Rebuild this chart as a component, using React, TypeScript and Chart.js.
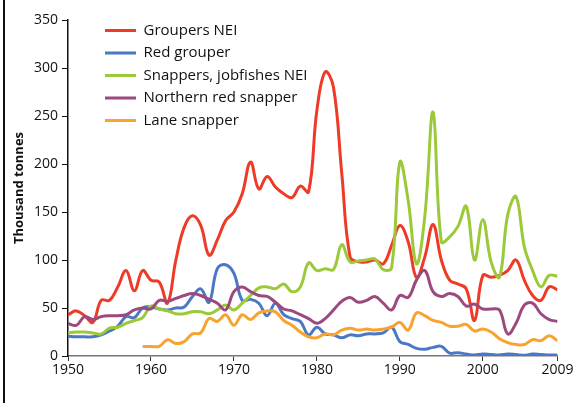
import { useEffect, useRef } from "react";
import { Chart, registerables } from "chart.js";
Chart.register(...registerables);

const years = [
  1950, 1951, 1952, 1953, 1954, 1955, 1956, 1957, 1958, 1959,
  1960, 1961, 1962, 1963, 1964, 1965, 1966, 1967, 1968, 1969,
  1970, 1971, 1972, 1973, 1974, 1975, 1976, 1977, 1978, 1979,
  1980, 1981, 1982, 1983, 1984, 1985, 1986, 1987, 1988, 1989,
  1990, 1991, 1992, 1993, 1994, 1995, 1996, 1997, 1998, 1999,
  2000, 2001, 2002, 2003, 2004, 2005, 2006, 2007, 2008, 2009,
];

const groupersNEI = [
  43, 47, 42, 35, 58, 58, 72, 89, 68, 89,
  79, 77, 55, 100, 134, 146, 136, 105, 121, 141,
  150, 169, 202, 174, 187, 176, 169, 165, 177, 171,
  256, 296, 280, 190, 103, 98, 98, 100, 96, 115,
  136, 119, 82, 103, 137, 100, 79, 75, 70, 37,
  84, 82, 84, 89, 100, 79, 63, 58, 72, 69,
];

const redGrouper = [
  20.5, 20, 20, 20, 22, 26, 31, 41, 40, 50,
  51, 49, 48, 50, 51, 62, 70, 56, 91, 95,
  86, 58, 59, 55, 42, 55, 43, 39, 36, 22,
  30, 23, 22, 19, 22, 21, 23, 23, 24, 30,
  15, 12, 8, 7, 9, 10, 3, 3.5, 2, 1,
  2, 1.5, 1, 2, 1.5, 0.7, 2, 1.5, 1, 1,
];

const snappersJobfishesNEI = [
  24, 25, 25, 24, 23, 29, 30, 34, 37, 40,
  52, 49, 47, 44, 44, 46, 46, 44, 48, 53,
  48, 55, 63, 71, 72, 70, 75, 67, 72, 97,
  89, 91, 90, 116, 98, 99, 100, 101, 90, 92,
  202, 162, 96, 145, 254, 119, 124, 135, 156, 100,
  142, 98, 82, 147, 166, 114, 89, 72, 84, 83,
];

const northernRedSnapper = [
  34, 32, 41, 38, 41, 42, 42, 43, 48, 50,
  49, 58, 57, 60, 63, 65, 63, 59, 55, 48,
  67, 72, 67, 63, 62, 56, 49, 47, 43, 39,
  34, 39, 48, 57, 61, 56, 58, 62, 55, 48,
  63, 61, 79, 89, 67, 62, 65, 62, 52, 54,
  49, 49, 48, 23, 34, 53, 55, 44, 38, 36,
];

const laneSnapper = [
  null, null, null, null, null, null, null, null, null, 10,
  10, 10, 17, 13, 15, 23, 24, 39, 36, 43,
  32, 43, 38, 45, 47, 46, 37, 32, 25, 20,
  19, 23, 22, 27, 29, 27, 28, 27, 28, 30,
  35, 27, 45, 42, 37, 35, 31, 31, 33, 26,
  28, 25, 18, 14, 12, 12, 17, 16, 21, 16,
];

const xTickValues = [1950, 1960, 1970, 1980, 1990, 2000, 2009];

const seriesNames = [
  "Groupers NEI",
  "Red grouper",
  "Snappers, jobfishes NEI",
  "Northern red snapper",
  "Lane snapper",
];
const seriesColors = ["#EE3A26", "#4A78C4", "#9CC93A", "#9C4A7D", "#F8A22F"];
const seriesValues = [groupersNEI, redGrouper, snappersJobfishesNEI, northernRedSnapper, laneSnapper];

const legendShift = {
  id: "legendShift",
  afterLayout(chart: any) {
    const lg = chart.legend;
    if (lg) {
      lg.left += 29.5;
      lg.right += 29.5;
      lg.top += 15.6;
    }
  },
};

export default function App() {
  const ref = useRef<HTMLCanvasElement>(null);
  useEffect(() => {
    const canvas = ref.current!;
    const datasets = seriesNames.map((name, k) => ({
      label: name,
      data: years.map((x, i) => ({ x, y: seriesValues[k][i] })),
      borderColor: seriesColors[k],
      backgroundColor: seriesColors[k],
      borderWidth: 3,
      pointRadius: 0,
      tension: 0.4,
      fill: false,
      order: 4 - k,
    }));
    const chart = new Chart(canvas, {
      type: "line",
      data: { datasets } as any,
      plugins: [legendShift],
      options: {
        responsive: false,
        animation: false,
        devicePixelRatio: 1,
        layout: { padding: { left: 0, top: 20, right: 17.5, bottom: 0 } },
        plugins: {
          tooltip: { enabled: false },
          legend: {
            position: "chartArea" as any,
            align: "start",
            labels: {
              usePointStyle: true,
              pointStyle: "line",
              pointStyleWidth: 31,
              padding: 7.5,
              color: "#111",
              font: { family: "'Open Sans', sans-serif", size: 15 },
              sort: (a: any, b: any) => a.datasetIndex - b.datasetIndex,
            },
          },
        },
        scales: {
          x: {
            type: "linear",
            min: 1950,
            max: 2009,
            afterBuildTicks: (scale: any) => {
              scale.ticks = xTickValues.map((v) => ({ value: v }));
            },
            afterFit: (scale: any) => {
              scale.height = 47;
            },
            ticks: {
              autoSkip: false,
              maxRotation: 0,
              padding: 1,
              color: "#111",
              font: { family: "'Open Sans', sans-serif", size: 14 },
              callback: (v: any) => String(v),
            },
            grid: {
              drawOnChartArea: false,
              drawTicks: true,
              tickLength: 5,
              tickColor: "#333",
            },
            border: { color: "#777", width: 1.5 },
          },
          y: {
            min: 0,
            max: 350,
            afterFit: (scale: any) => {
              scale.width = 68;
            },
            ticks: {
              stepSize: 50,
              padding: 4,
              color: "#111",
              font: { family: "'Open Sans', sans-serif", size: 14 },
            },
            grid: {
              drawOnChartArea: false,
              drawTicks: true,
              tickLength: 6,
              tickColor: "#111",
            },
            border: { color: "#111", width: 1.5 },
            title: {
              display: true,
              text: "Thousand tonnes",
              color: "#111",
              padding: { top: 11, bottom: 0 },
              font: { family: "'Open Sans', sans-serif", size: 13, weight: "bold" },
            },
          },
        },
      } as any,
    });
    return () => chart.destroy();
  }, []);
  return (
    <div style={{ position: "absolute", left: 0, top: 0, width: 575, height: 403, background: "#fff" }}>
      <div style={{ position: "absolute", left: 3, top: 0, width: 1.5, height: 403, background: "#111" }} />
      <canvas ref={ref} width={575} height={403} style={{ position: "absolute", left: 0, top: 0 }} />
    </div>
  );
}
